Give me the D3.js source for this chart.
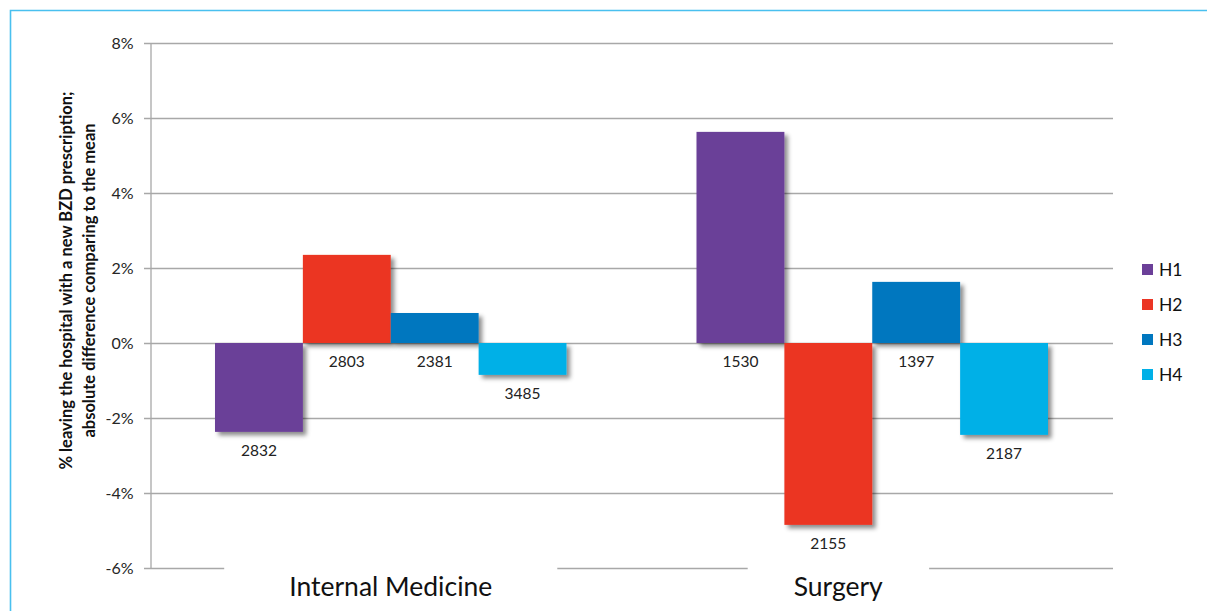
<!DOCTYPE html>
<html>
<head>
<meta charset="utf-8">
<script src="https://cdn.jsdelivr.net/npm/d3@7/dist/d3.min.js"></script>
<style>
  html, body { margin: 0; padding: 0; background: #fff; }
  svg { display: block; }
  text { font-family: Lato, "Open Sans", sans-serif; }
</style>
</head>
<body>
<svg id="chart" width="1207" height="611"></svg>
<script>
// Departments (x categories) and hospitals (series)
const categories = ["Internal Medicine", "Surgery"];
const series = ["H1", "H2", "H3", "H4"];
// Difference from the mean, in percentage points, per hospital for each department
const values = {
  H1: [-2.37, 5.63],
  H2: [2.35, -4.85],
  H3: [0.80, 1.63],
  H4: [-0.85, -2.45]
};
// Number of patients shown under each bar
const counts = {
  H1: [2832, 1530],
  H2: [2803, 2155],
  H3: [2381, 1397],
  H4: [3485, 2187]
};
const yTicks = [-6, -4, -2, 0, 2, 4, 6, 8];
const colors = ["#6B3F98", "#EB3524", "#0077BF", "#00B0E7"];
const yTitle = ["% leaving the hospital with a new BZD prescription;",
                "absolute difference comparing to the mean"];

const svg = d3.select("#chart");
const W = 1207, H = 611;
const plot = { left: 150, right: 1113, top: 43, bottom: 568 };

// Outer frame: top and left edges only
svg.append("path")
  .attr("d", `M10.5,${H} L10.5,10.5 L${W},10.5`)
  .attr("fill", "none").attr("stroke", "#49C0EF").attr("stroke-width", 1.6);

const defs = svg.append("defs");
const f = defs.append("filter").attr("id", "shadow")
  .attr("x", "-20%").attr("y", "-20%").attr("width", "150%").attr("height", "150%");
f.append("feDropShadow").attr("dx", 3.5).attr("dy", 3.5)
  .attr("stdDeviation", 2).attr("flood-color", "#000").attr("flood-opacity", 0.45);

const x0 = d3.scaleBand().domain(categories).range([plot.left, plot.right]).paddingInner(0).paddingOuter(0);
const groupPad = 0.135; // fraction of band left empty on each side
const x1 = d3.scaleBand().domain(series)
  .range([x0.bandwidth() * groupPad, x0.bandwidth() * (1 - groupPad)]);
const y = d3.scaleLinear().domain([-6, 8]).range([plot.bottom, plot.top]);

// Gridlines
const grid = svg.append("g");
grid.selectAll("line").data(yTicks).join("line")
  .attr("x1", plot.left - 6).attr("x2", plot.right)
  .attr("y1", d => Math.round(y(d)) + 0.5).attr("y2", d => Math.round(y(d)) + 0.5)
  .attr("stroke", "#A8A8A8").attr("stroke-width", 1.3);

// Y axis
const yAxis = d3.axisLeft(y).tickValues(yTicks).tickSize(0).tickPadding(17)
  .tickFormat(d => d + "%");
const ga = svg.append("g").attr("transform", `translate(${plot.left + 0.5},0)`).call(yAxis);
ga.select(".domain").attr("stroke", "#A8A8A8").attr("stroke-width", 1.3);
ga.selectAll("text").attr("font-size", 16).attr("fill", "#262626")
  .attr("font-family", "Lato, 'Open Sans', sans-serif");

// Y axis title
const yt = svg.append("text")
  .attr("transform", `translate(0,${(plot.top + plot.bottom) / 2 - 25}) rotate(-90)`)
  .attr("text-anchor", "middle").attr("font-weight", "bold").attr("font-size", 16.5)
  .attr("fill", "#111");
yTitle.forEach((t, i) => yt.append("tspan").attr("x", 0).attr("y", 72 + i * 23).text(t));

// Bars
const rows = [];
categories.forEach((c, ci) => series.forEach((s, si) => rows.push({
  cat: c, s, si, v: values[s][ci], n: counts[s][ci]
})));

const gBars = svg.append("g");
gBars.selectAll("rect").data(rows).join("rect")
  .attr("x", d => x0(d.cat) + x1(d.s))
  .attr("width", x1.bandwidth())
  .attr("y", d => y(Math.max(0, d.v)))
  .attr("height", d => Math.abs(y(d.v) - y(0)))
  .attr("fill", d => colors[d.si])
  .attr("filter", "url(#shadow)");

// Patient counts below each bar (or below the zero line)
svg.append("g").selectAll("text").data(rows).join("text")
  .attr("x", d => x0(d.cat) + x1(d.s) + x1.bandwidth() / 2)
  .attr("y", d => y(Math.min(0, d.v)) + 24)
  .attr("text-anchor", "middle").attr("font-size", 15.5).attr("fill", "#222")
  .text(d => d.n);

// Category labels with white backing that interrupts the bottom gridline
const catShift = [0, -34];
const catPad = [65, 46];
const gCat = svg.append("g");
categories.forEach((c, i) => {
  const cx = x0(c) + x0.bandwidth() / 2 + catShift[i];
  const t = gCat.append("text").attr("x", cx).attr("y", 596)
    .attr("text-anchor", "middle").attr("font-size", 26.5).attr("fill", "#111").text(c);
  const bb = t.node().getBBox();
  gCat.insert("rect", "text").attr("x", bb.x - catPad[i]).attr("y", y(-6) - 3)
    .attr("width", bb.width + 2 * catPad[i]).attr("height", 6).attr("fill", "#fff");
});

// Legend
const lg = svg.append("g").attr("transform", "translate(1142,264)");
series.forEach((s, i) => {
  const g = lg.append("g").attr("transform", `translate(0,${i * 35})`);
  g.append("rect").attr("width", 11).attr("height", 11).attr("fill", colors[i]);
  g.append("text").attr("x", 17).attr("y", 11.5).attr("font-size", 17.5).attr("fill", "#111").text(s);
});
</script>
</body>
</html>
